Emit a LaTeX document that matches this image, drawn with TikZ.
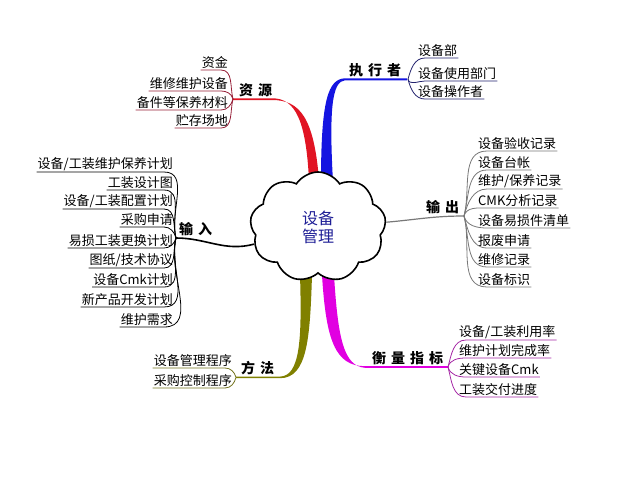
\documentclass[tikz,border=0pt]{standalone}
\usepackage{fontspec}
\setmainfont{Noto Sans CJK SC}
\usepackage{tikz}
\usetikzlibrary{shapes.symbols}
\definecolor{resred}{RGB}{225,20,35}
\definecolor{resline}{RGB}{150,30,55}
\definecolor{exeblue}{RGB}{20,20,225}
\definecolor{exeline}{RGB}{35,35,110}
\definecolor{outgray}{RGB}{120,120,120}
\definecolor{metholive}{RGB}{128,128,0}
\definecolor{methline}{RGB}{115,115,30}
\definecolor{measmag}{RGB}{225,0,225}
\definecolor{measline}{RGB}{165,40,165}
\definecolor{coretext}{RGB}{30,30,150}
\newcommand{\gapp}{\hspace{5pt}}
\tikzset{lu/.style={out=105,in=0}, ld/.style={out=255,in=0},
         ru/.style={out=75,in=180}, rd/.style={out=285,in=180}}

\begin{document}
\begin{tikzpicture}[x=1pt,y=-1pt,font=\fontsize{13}{15}\selectfont]
  \tikzstyle{item}=[inner sep=1pt]
  \tikzstyle{lbl}=[inner sep=1pt,anchor=south west,font=\fontsize{14}{16}\selectfont\bfseries]
  \tikzstyle{resln}=[resline,line width=0.8pt]
  \tikzstyle{exeln}=[exeline,line width=0.8pt]
  \tikzstyle{inln}=[black,line width=0.8pt]
  \tikzstyle{outln}=[outgray,line width=0.8pt]
  \tikzstyle{methln}=[methline,line width=0.8pt]
  \tikzstyle{measln}=[measline,line width=0.8pt]
  \useasboundingbox (0,0) rectangle (640,480);

  % main branches
  \fill[resred] (233,98.3) -- (272,98.3) .. controls (296,98) and (306,122) .. (309,180)
    -- (319,180) .. controls (314,118) and (300,100) .. (272,100) -- (233,100) -- cycle;
  \fill[exeblue] (407,78.3) -- (345,78.3) .. controls (328,79) and (321,100) .. (321,182)
    -- (333,182) .. controls (329,110) and (332,81) .. (345,80.3) -- (407,80.3) -- cycle;
  \fill[metholive] (300,275) .. controls (302,340) and (300,376) .. (280,376.6)
    -- (236,376.6) -- (236,378.2) -- (280,378.2) .. controls (307,378) and (310,340) .. (312,275) -- cycle;
  \fill[measmag] (322,275) .. controls (326,340) and (335,366) .. (365,366.2)
    -- (448,366.2) -- (448,367.8) -- (365,367.8) .. controls (344,366) and (338,340) .. (334,275) -- cycle;

  \node[cloud, draw, fill=white, line width=1.6pt, cloud puffs=9, cloud puff arc=115,
        aspect=1.2, minimum width=136pt, minimum height=110pt, align=center,
        text=coretext, font=\fontsize{16}{18}\selectfont] (core) at (318,227) {设备\\管理};

  \coordinate (resA) at (233,99);
  \coordinate (exeA) at (408,79.3);
  \coordinate (inA) at (176,238);
  \coordinate (outA) at (464,216);
  \coordinate (methA) at (236,377.4);
  \coordinate (measA) at (448,367);

  \draw[line width=1.6pt] (inA) to[out=0,in=195] (core.195);
  \draw[outgray,line width=1.2pt] (core.4) to[out=5,in=180] (outA);

  \node[lbl] (res) at (238,98) {资\gapp 源};
  \node[lbl] (exe) at (348,78) {执\gapp 行\gapp 者};
  \node[lbl] (inp) at (178,237) {输\gapp 入};
  \node[lbl] (outp) at (425,215) {输\gapp 出};
  \node[lbl] (meth) at (240,376) {方\gapp 法};
  \node[lbl] (meas) at (371,366) {衡\gapp 量\gapp 指\gapp 标};

  \node[item,anchor=south east] (res1) at (229,70) {资金};
  \node[item,anchor=south east] (res2) at (229,91) {维修维护设备};
  \node[item,anchor=south east] (res3) at (229,110) {备件等保养材料};
  \node[item,anchor=south east] (res4) at (229,128) {贮存场地};

  \node[item,anchor=south west] (exe1) at (417,58) {设备部};
  \node[item,anchor=south west] (exe2) at (417,81) {设备使用部门};
  \node[item,anchor=south west] (exe3) at (417,99) {设备操作者};

  \node[item,anchor=south east] (in1) at (174,172) {设备/工装维护保养计划};
  \node[item,anchor=south east] (in2) at (174,190) {工装设计图};
  \node[item,anchor=south east] (in3) at (174,209) {设备/工装配置计划};
  \node[item,anchor=south east] (in4) at (174,227) {采购申请};
  \node[item,anchor=south east] (in5) at (174,248) {易损工装更换计划};
  \node[item,anchor=south east] (in6) at (174,268) {图纸/技术协议};
  \node[item,anchor=south east] (in7) at (174,287) {设备Cmk计划};
  \node[item,anchor=south east] (in8) at (174,307) {新产品开发计划};
  \node[item,anchor=south east] (in9) at (174,327) {维护需求};

  \node[item,anchor=south west] (out1) at (477,151) {设备验收记录};
  \node[item,anchor=south west] (out2) at (477,170) {设备台帐};
  \node[item,anchor=south west] (out3) at (477,189) {维护/保养记录};
  \node[item,anchor=south west] (out4) at (477,208) {CMK分析记录};
  \node[item,anchor=south west] (out5) at (477,228) {设备易损件清单};
  \node[item,anchor=south west] (out6) at (477,248) {报废申请};
  \node[item,anchor=south west] (out7) at (477,267) {维修记录};
  \node[item,anchor=south west] (out8) at (477,287) {设备标识};

  \node[item,anchor=south east] (meth1) at (233,368) {设备管理程序};
  \node[item,anchor=south east] (meth2) at (233,388) {采购控制程序};

  \node[item,anchor=south west] (meas1) at (458,340) {设备/工装利用率};
  \node[item,anchor=south west] (meas2) at (458,358) {维护计划完成率};
  \node[item,anchor=south west] (meas3) at (458,377) {关键设备Cmk};
  \node[item,anchor=south west] (meas4) at (458,397) {工装交付进度};

  \draw[resln] (resA) to[lu] ([xshift=-8pt]res1.south east) -- (res1.south west);
  \draw[resln] (resA) to[lu] ([xshift=-8pt]res2.south east) -- (res2.south west);
  \draw[resln] (resA) to[ld] ([xshift=-8pt]res3.south east) -- (res3.south west);
  \draw[resln] (resA) to[ld] ([xshift=-8pt]res4.south east) -- (res4.south west);

  \draw[exeln] (exeA) to[ru] ([xshift=8pt]exe1.south west) -- (exe1.south east);
  \draw[exeln] (exeA) to[rd] ([xshift=8pt]exe2.south west) -- (exe2.south east);
  \draw[exeln] (exeA) to[rd] ([xshift=8pt]exe3.south west) -- (exe3.south east);

  \draw[inln] (inA) to[lu] ([xshift=-10pt]in1.south east) -- (in1.south west);
  \draw[inln] (inA) to[lu] ([xshift=-10pt]in2.south east) -- (in2.south west);
  \draw[inln] (inA) to[lu] ([xshift=-10pt]in3.south east) -- (in3.south west);
  \draw[inln] (inA) to[lu] ([xshift=-10pt]in4.south east) -- (in4.south west);
  \draw[inln] (inA) to[ld] ([xshift=-10pt]in5.south east) -- (in5.south west);
  \draw[inln] (inA) to[ld] ([xshift=-10pt]in6.south east) -- (in6.south west);
  \draw[inln] (inA) to[ld] ([xshift=-10pt]in7.south east) -- (in7.south west);
  \draw[inln] (inA) to[ld] ([xshift=-10pt]in8.south east) -- (in8.south west);
  \draw[inln] (inA) to[ld] ([xshift=-10pt]in9.south east) -- (in9.south west);

  \draw[outln] (outA) to[ru] ([xshift=10pt]out1.south west) -- (out1.south east);
  \draw[outln] (outA) to[ru] ([xshift=10pt]out2.south west) -- (out2.south east);
  \draw[outln] (outA) to[ru] ([xshift=10pt]out3.south west) -- (out3.south east);
  \draw[outln] (outA) to[ru] ([xshift=10pt]out4.south west) -- (out4.south east);
  \draw[outln] (outA) to[rd] ([xshift=10pt]out5.south west) -- (out5.south east);
  \draw[outln] (outA) to[rd] ([xshift=10pt]out6.south west) -- (out6.south east);
  \draw[outln] (outA) to[rd] ([xshift=10pt]out7.south west) -- (out7.south east);
  \draw[outln] (outA) to[rd] ([xshift=10pt]out8.south west) -- (out8.south east);

  \draw[methln] (methA) to[lu] ([xshift=-8pt]meth1.south east) -- (meth1.south west);
  \draw[methln] (methA) to[ld] ([xshift=-8pt]meth2.south east) -- (meth2.south west);

  \draw[measln] (measA) to[ru] ([xshift=8pt]meas1.south west) -- (meas1.south east);
  \draw[measln] (measA) to[ru] ([xshift=8pt]meas2.south west) -- (meas2.south east);
  \draw[measln] (measA) to[rd] ([xshift=8pt]meas3.south west) -- (meas3.south east);
  \draw[measln] (measA) to[rd] ([xshift=8pt]meas4.south west) -- (meas4.south east);
\end{tikzpicture}
\end{document}
